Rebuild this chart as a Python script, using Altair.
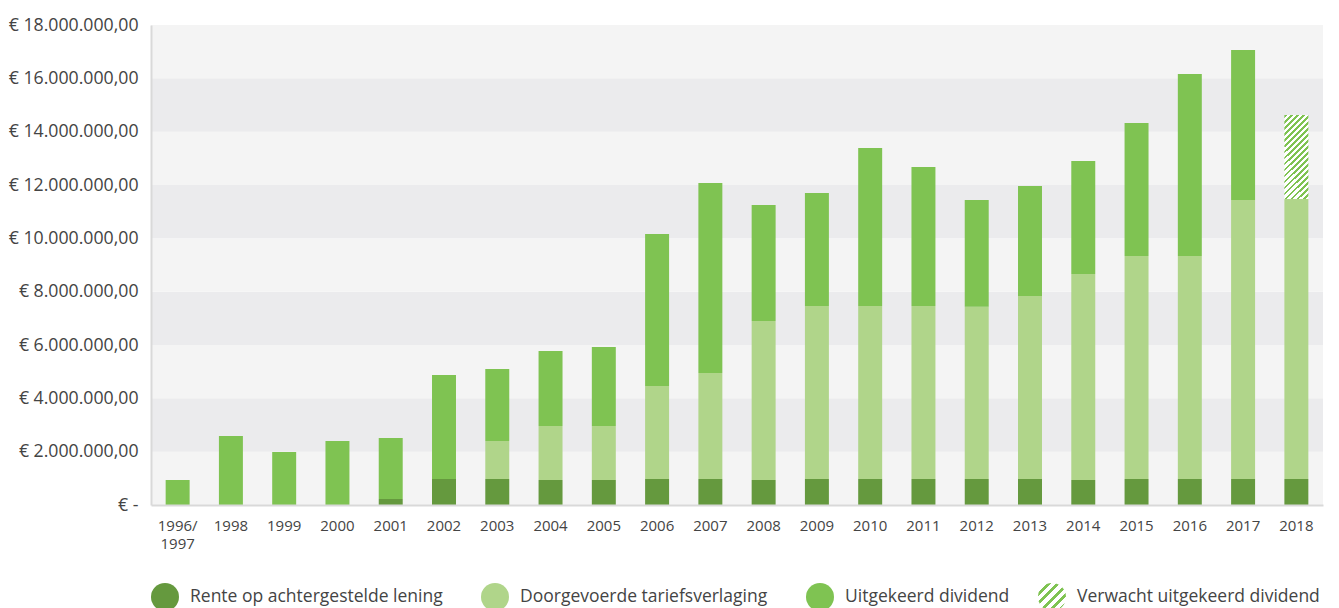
import altair as alt
import pandas as pd

categories = ["1996/1997", "1998", "1999", "2000", "2001", "2002", "2003", "2004",
              "2005", "2006", "2007", "2008", "2009", "2010", "2011", "2012", "2013",
              "2014", "2015", "2016", "2017", "2018"]
rente = [0, 0, 0, 0, 225000, 975000, 975000, 937500, 937500, 975000, 975000,
         937500, 975000, 975000, 975000, 975000, 975000, 937500, 975000, 975000,
         975000, 975000]
tarief = [0, 0, 0, 0, 0, 0, 1425000, 2025000, 2025000, 3487500, 3975000,
          5962500, 6487500, 6487500, 6487500, 6462500, 6862500, 7725000, 8362500,
          8362500, 10462500, 10500000]
dividend = [937500, 2587500, 1987500, 2400000, 2287500, 3900000, 2700000, 2812500,
            2962500, 5700000, 7125000, 4350000, 4237500, 5925000, 5212500, 4000000,
            4125000, 4237500, 4987500, 6825000, 5625000, 0]
verwacht = [0] * 21 + [3150000]

series_names = ["Rente op achtergestelde lening", "Doorgevoerde tariefsverlaging",
                "Uitgekeerd dividend", "Verwacht uitgekeerd dividend"]
series_colors = ["#65993e", "#b0d58a", "#7fc352", "#7fc352"]

band_lo = [0, 2000000, 4000000, 6000000, 8000000, 10000000, 12000000, 14000000, 16000000]
band_shade = ["a", "b", "a", "b", "a", "b", "a", "b", "a"]

rows = []
for i, c in enumerate(categories):
    for rank, (name, vals) in enumerate(zip(series_names, [rente, tarief, dividend, verwacht])):
        if vals[i] > 0:
            rows.append({"cat": c, "series": name, "value": vals[i], "rank": rank})
df = pd.DataFrame(rows)

bands_df = pd.DataFrame({"lo": band_lo, "hi": [b + 2000000 for b in band_lo], "shade": band_shade})
legend_df = pd.DataFrame({"cat": [categories[-1]], "value": [0], "series": [series_names[3]]})


def stripes(n, frac=0.45, green="#7fc352", bg="#ffffff"):
    stops = []
    for k in range(n):
        a = k / n
        b = (k + frac) / n
        c = (k + 1) / n
        stops += [{"offset": a, "color": green}, {"offset": b, "color": green},
                  {"offset": b, "color": bg}, {"offset": c, "color": bg}]
    return stops


# bar hatch: 24px wide, ~85px tall -> 45 degree stripes in pixel space
W, H = 24.0, 85.0
k = (W + H) / (W * W + H * H)
hatch_bar = {"gradient": "linear", "x1": 0, "y1": 0, "x2": round(k * W, 4), "y2": round(k * H, 4),
             "stops": stripes(18)}
hatch_legend = {"gradient": "linear", "x1": 0, "y1": 0, "x2": 1, "y2": 1, "stops": stripes(6)}

y_scale = alt.Scale(domain=[0, 18000000], nice=False)
y_axis = alt.Axis(
    values=[0, 2000000, 4000000, 6000000, 8000000, 10000000, 12000000, 14000000, 16000000, 18000000],
    labelExpr="datum.value == 0 ? '€ -' : '€ ' + format(datum.value / 1000000, 'd') + '.000.000,00'",
    ticks=False, grid=False, domain=True, domainColor="#d9d9d9", domainWidth=2,
    labelFont="Open Sans", labelFontSize=17.7, labelColor="#444444", labelPadding=13,
    title=None, zindex=1,
)
x_enc = alt.X("cat:N", sort=categories,
              scale=alt.Scale(paddingInner=0.55, paddingOuter=0.275),
              axis=alt.Axis(title=None, labelAngle=0, ticks=False, domainColor="#d9d9d9", domainWidth=2,
                            labelFont="Open Sans", labelFontSize=15, labelColor="#444444",
                            labelPadding=13, labelLineHeight=18, zindex=1,
                            labelExpr="datum.value == '1996/1997' ? ['1996/', '1997'] : datum.label"))

common_legend = dict(title=None, orient="none", direction="horizontal",
                     symbolType="circle", symbolSize=784, symbolStrokeWidth=0,
                     labelFont="Open Sans", labelFontSize=17.5, labelColor="#444444",
                     labelOffset=11, labelLimit=400)

bands = alt.Chart(bands_df).mark_rect().encode(
    y=alt.Y("lo:Q", scale=y_scale, axis=y_axis),
    y2="hi:Q",
    fill=alt.Fill("shade:N", scale=alt.Scale(domain=["a", "b"], range=["#f4f4f4", "#ebebed"]), legend=None),
)

bars = alt.Chart(df).mark_bar().encode(
    x=x_enc,
    y=alt.Y("value:Q", stack="zero", scale=y_scale, axis=y_axis),
    color=alt.condition(
        alt.datum.series == "Verwacht uitgekeerd dividend",
        alt.value(hatch_bar),
        alt.Color("series:N",
                  scale=alt.Scale(domain=series_names, range=series_colors),
                  legend=alt.Legend(legendX=0, legendY=558, columnPadding=38,
                                    values=series_names[:3], **common_legend)),
    ),
    order=alt.Order("rank:Q"),
)

legend_layer = alt.Chart(legend_df).mark_point(filled=True, color=hatch_legend, opacity=1).encode(
    x=x_enc,
    y=alt.Y("value:Q", scale=y_scale, axis=y_axis),
    size=alt.value(0),
    opacity=alt.Opacity("series:N", scale=alt.Scale(range=[1, 1]),
                        legend=alt.Legend(legendX=887, legendY=558, **common_legend)),
)

chart = alt.layer(bands, bars, legend_layer).properties(
    width=1172, height=480,
    autosize=alt.AutoSizeParams(type="none"),
    padding={"left": 143, "top": 17, "right": 8, "bottom": 103},
    background="#ffffff",
).configure_view(stroke=None)

chart.save("out.html", embed_options={"renderer": "svg", "actions": False})
